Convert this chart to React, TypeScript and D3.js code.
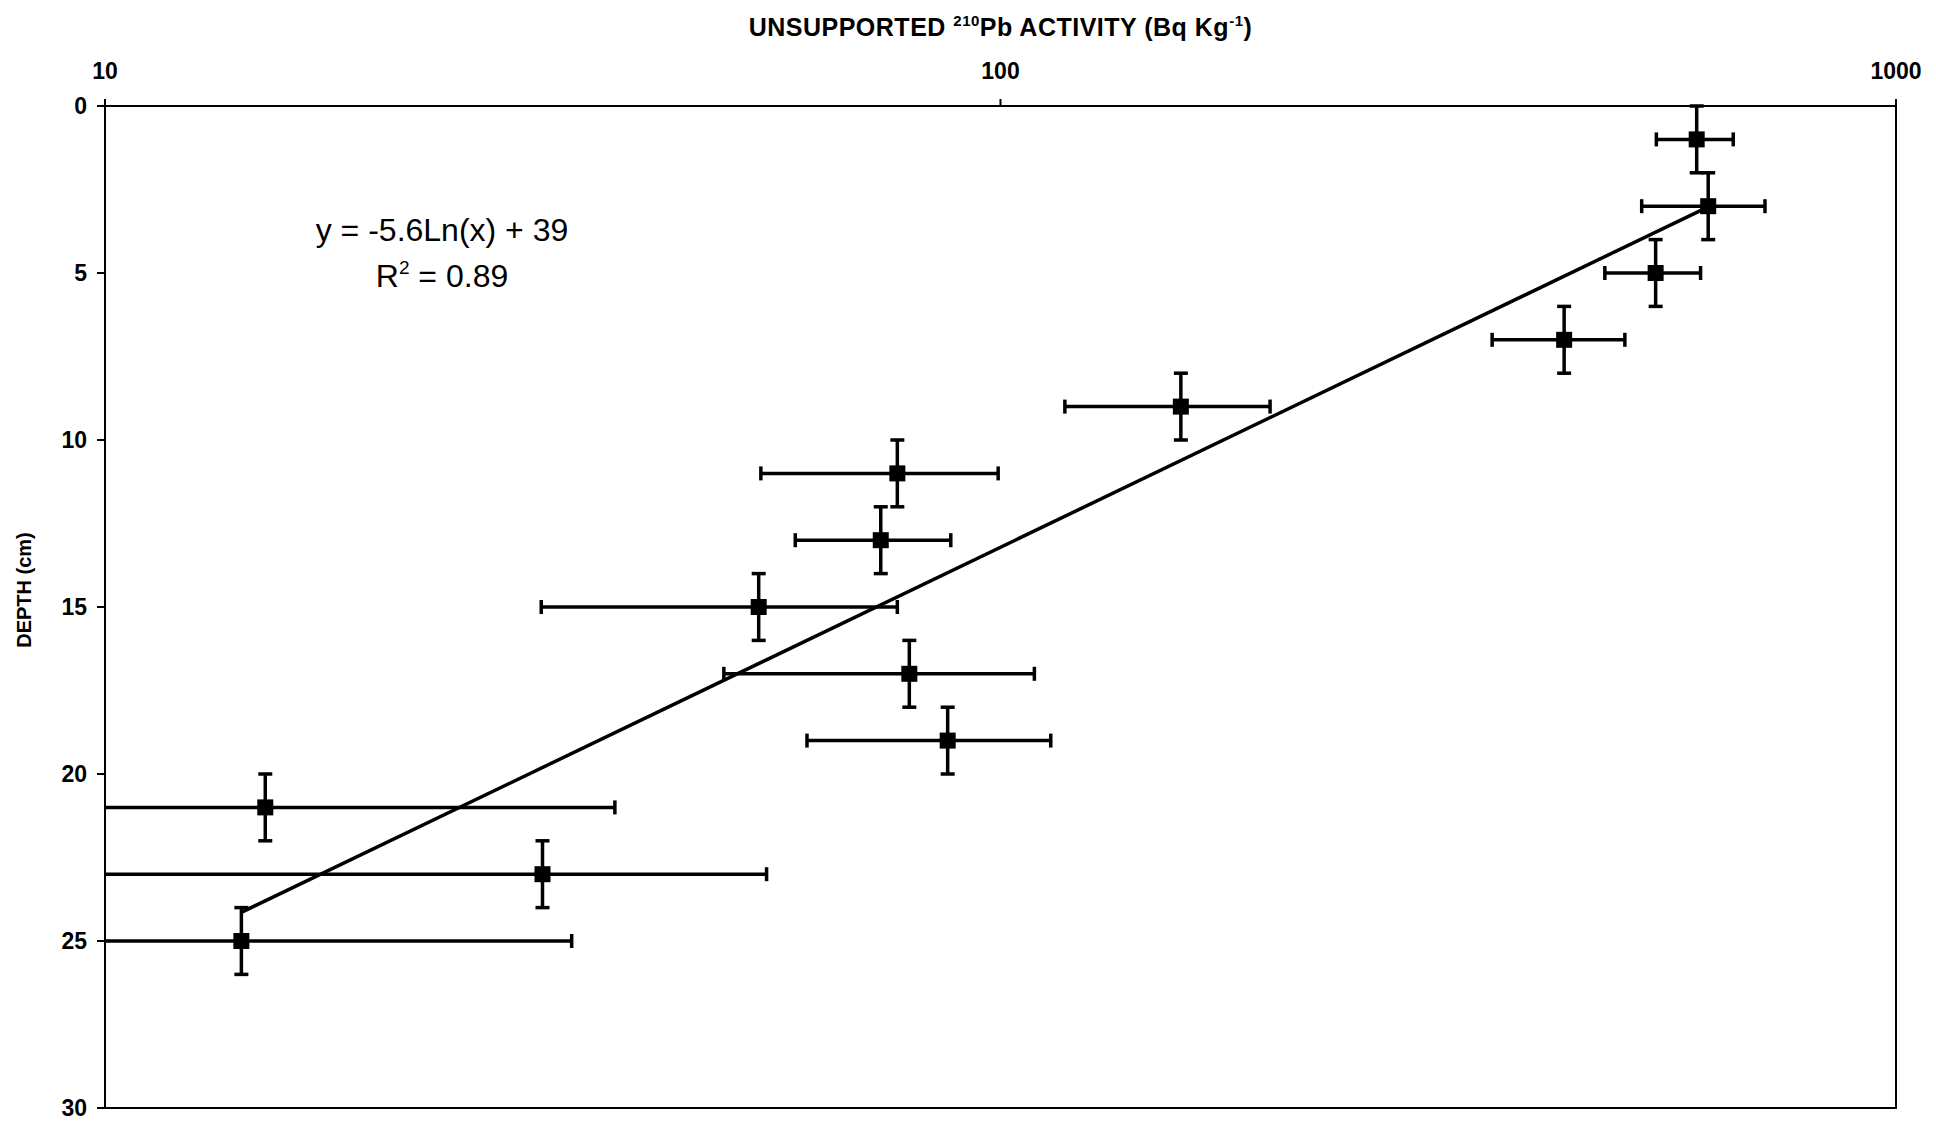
import * as d3 from "d3";

// depth (cm) of each slice
const depths = [1, 3, 5, 7, 9, 11, 13, 15, 17, 19, 21, 23, 25];
// unsupported 210Pb activity (Bq/kg)
const activity = [599, 617, 539, 426, 159, 76.7, 73.5, 53.7, 79.1, 87.3, 15.1, 30.8, 14.2];
// +/- error on activity
const activityErr = [59, 97, 66, 72, 41, 22.7, 14.5, 23, 30, 26.5, 22, 24, 19];
// +/- error on depth
const depthErr = [1, 1, 1, 1, 1, 1, 1, 1, 1, 1, 1, 1, 1];

const xTicks = [10, 100, 1000];
const yTicks = [0, 5, 10, 15, 20, 25, 30];

// logarithmic trend shown on the chart
const trendA = -5.6;
const trendB = 39;

const W = 1936;
const H = 1123;
const margin = { top: 106, right: 40, bottom: 15, left: 105 };

export default function App() {
    const x = d3
        .scaleLog()
        .domain([10, 1000])
        .range([margin.left, W - margin.right]);
    const y = d3
        .scaleLinear()
        .domain([0, 30])
        .range([margin.top, H - margin.bottom]);

    const pts = depths.map((d, i) => ({
        depth: d,
        act: activity[i],
        ex: activityErr[i],
        ey: depthErr[i],
    }));

    const clampX = (v: number) => x(Math.max(10, Math.min(1000, v)));
    const clampY = (v: number) => y(Math.max(0, Math.min(30, v)));

    const xMin = d3.min(activity)!;
    const xMax = d3.max(activity)!;
    const trend = [xMin, xMax].map((v) => [x(v), y(trendA * Math.log(v) + trendB)] as [number, number]);
    const line = d3.line();

    const cap = 7;
    const sq = 16;
    const font = "'Liberation Sans', Arial, Helvetica, sans-serif";

    return (
        <svg
            width={W}
            height={H}
            style={{ position: "absolute", left: 0, top: 0, background: "#fff" }}
            fontFamily={font}
        >
            {/* frame */}
            <rect
                x={x(10)}
                y={y(0)}
                width={x(1000) - x(10)}
                height={y(30) - y(0)}
                fill="none"
                stroke="#000"
                strokeWidth={2}
            />

            {/* top axis */}
            <text x={(x(10) + x(1000)) / 2} y={36} textAnchor="middle" fontSize={25} fontWeight="bold" letterSpacing={0.5}>
                UNSUPPORTED{" "}
                <tspan fontSize={15} dy={-10}>210</tspan>
                <tspan dy={10}>Pb ACTIVITY (Bq Kg</tspan>
                <tspan fontSize={15} dy={-10}>-1</tspan>
                <tspan dy={10}>)</tspan>
            </text>
            {xTicks.map((t) => (
                <g key={t}>
                    <line x1={x(t)} x2={x(t)} y1={y(0)} y2={y(0) - 7} stroke="#000" strokeWidth={2} />
                    <text x={x(t)} y={y(0) - 27} textAnchor="middle" fontSize={23} fontWeight="bold">
                        {t}
                    </text>
                </g>
            ))}

            {/* left axis */}
            {yTicks.map((t) => (
                <g key={t}>
                    <line x1={x(10) - 8} x2={x(10)} y1={y(t)} y2={y(t)} stroke="#000" strokeWidth={2} />
                    <text
                        x={x(10) - 18}
                        y={y(t)}
                        textAnchor="end"
                        dominantBaseline="central"
                        fontSize={23}
                        fontWeight="bold"
                    >
                        {t}
                    </text>
                </g>
            ))}
            <text
                transform={`translate(24,590) rotate(-90)`}
                textAnchor="middle"
                dominantBaseline="central"
                fontSize={20}
                fontWeight="bold"
            >
                DEPTH (cm)
            </text>

            {/* error bars */}
            <g stroke="#000" strokeWidth={3.5} fill="none">
                {pts.map((p, i) => {
                    const cx = x(p.act);
                    const cy = y(p.depth);
                    const xl = p.act - p.ex;
                    const xr = p.act + p.ex;
                    const x0 = clampX(xl);
                    const x1 = clampX(xr);
                    const y0 = clampY(p.depth - p.ey);
                    const y1 = clampY(p.depth + p.ey);
                    return (
                        <g key={i}>
                            <line x1={x0} x2={x1} y1={cy} y2={cy} />
                            {xl > 10 && <line x1={x0} x2={x0} y1={cy - cap} y2={cy + cap} />}
                            {xr < 1000 && <line x1={x1} x2={x1} y1={cy - cap} y2={cy + cap} />}
                            <line x1={cx} x2={cx} y1={y0} y2={y1} />
                            <line x1={cx - cap} x2={cx + cap} y1={y0} y2={y0} />
                            <line x1={cx - cap} x2={cx + cap} y1={y1} y2={y1} />
                        </g>
                    );
                })}
            </g>

            {/* trend line */}
            <path d={line(trend)!} stroke="#000" strokeWidth={3.5} fill="none" />

            {/* markers */}
            {pts.map((p, i) => (
                <rect
                    key={i}
                    x={x(p.act) - sq / 2}
                    y={y(p.depth) - sq / 2}
                    width={sq}
                    height={sq}
                    fill="#000"
                />
            ))}

            {/* equation */}
            <text x={442} y={241} textAnchor="middle" fontSize={32}>
                y = -5.6Ln(x) + 39
            </text>
            <text x={442} y={287} textAnchor="middle" fontSize={32}>
                R<tspan fontSize={19} dy={-13}>2</tspan>
                <tspan dy={13}> = 0.89</tspan>
            </text>
        </svg>
    );
}
